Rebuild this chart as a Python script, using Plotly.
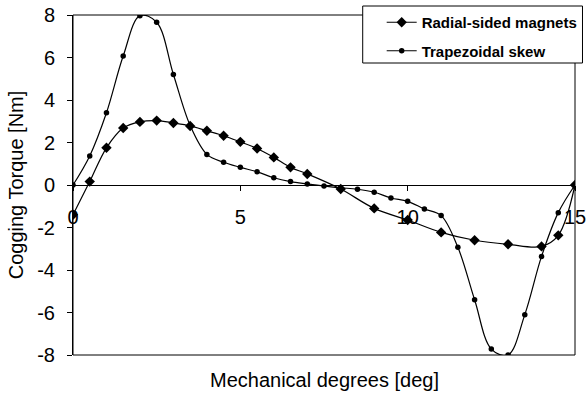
import plotly.graph_objects as go

radial_x = [0, 0.5, 1.0, 1.5, 2.0, 2.5, 3.0, 3.5, 4.0, 4.5, 5.0, 5.5, 6.0, 6.5, 7.0,
            8.0, 9.0, 10.0, 11.0, 12.0, 13.0, 14.0, 14.5, 15.0]
radial_y = [-1.4, 0.16, 1.75, 2.68, 2.97, 3.03, 2.92, 2.78, 2.55, 2.32, 2.03, 1.72, 1.3, 0.83, 0.52,
            -0.19, -1.1, -1.65, -2.23, -2.6, -2.79, -2.89, -2.37, 0.0]

trap_x = [0, 0.5, 1.0, 1.5, 2.0, 2.5, 3.0, 3.5, 4.0, 4.5, 5.0, 5.5, 6.0, 6.5, 7.0, 7.5,
          8.0, 8.5, 9.0, 9.5, 10.0, 10.5, 11.0, 11.5, 12.0, 12.5, 13.0, 13.5, 14.0, 14.5, 15.0]
trap_y = [0.0, 1.37, 3.4, 6.07, 7.97, 7.66, 5.2, 2.8, 1.44, 1.07, 0.83, 0.62, 0.34, 0.16, 0.05, -0.05,
          -0.13, -0.2, -0.34, -0.61, -0.77, -1.13, -1.44, -2.93, -5.4, -7.72, -8.0, -6.1, -3.36, -1.3, 0.0]

x_ticks = [0, 5, 10, 15]
y_ticks = [-8, -6, -4, -2, 0, 2, 4, 6, 8]

FONT = "Liberation Sans, Arial, sans-serif"

# plot area in pixels: x 73..575.5, y 15..355
PL, PR, PT, PB = 73.0, 575.5, 15.0, 355.0
def px_x(p):
    return (p - PL) / (PR - PL)
def px_y(p):
    return (PB - p) / (PB - PT)

fig = go.Figure()
fig.add_trace(go.Scatter(
    x=radial_x, y=radial_y, name="Radial-sided magnets", mode="lines+markers",
    line=dict(color="black", width=1.2, shape="spline", smoothing=1.0),
    marker=dict(symbol="diamond", size=8, color="black"),
    legendgroup="a"))
fig.add_trace(go.Scatter(
    x=trap_x, y=trap_y, name="Trapezoidal skew", mode="lines+markers",
    line=dict(color="black", width=1.2, shape="spline", smoothing=1.0),
    marker=dict(symbol="circle", size=5.5, color="black"),
    legendgroup="b"))

fig.update_layout(
    width=586, height=394,
    margin=dict(l=73, r=10.5, t=15, b=39, autoexpand=False),
    paper_bgcolor="white", plot_bgcolor="white",
    font=dict(family=FONT, size=20, color="black"),
    showlegend=True,
    legend=dict(
        x=px_x(382), y=px_y(6), xanchor="left", yanchor="top",
        bgcolor="rgba(0,0,0,0)", borderwidth=0,
        font=dict(family=FONT, size=15, color="black", weight="bold"),
        traceorder="grouped", tracegroupgap=6,
    ),
    xaxis=dict(
        range=[0, 15], tickvals=x_ticks, ticktext=[str(v) for v in x_ticks],
        anchor="free", position=0.5,
        showline=True, linecolor="black", linewidth=1,
        ticks="outside", ticklen=5, tickcolor="black",
        showgrid=False, zeroline=False,
        tickfont=dict(size=20), ticklabelstandoff=9,
        ticklabeloverflow="allow",
    ),
    yaxis=dict(
        range=[-8, 8], tickvals=y_ticks, ticktext=[str(v) for v in y_ticks],
        showline=True, linecolor="black", linewidth=1,
        ticks="outside", ticklen=5, tickcolor="black",
        showgrid=False, zeroline=False,
        tickfont=dict(size=20), ticklabelstandoff=8,
        ticklabeloverflow="allow",
        title=dict(text="Cogging Torque [Nm]", font=dict(size=20), standoff=8),
    ),
    shapes=[
        dict(type="rect", xref="x domain", yref="y domain", x0=0, x1=1, y0=0, y1=1,
             line=dict(color="black", width=1), layer="below"),
        dict(type="rect", xref="paper", yref="paper",
             x0=px_x(363), x1=px_x(583), y0=px_y(63), y1=px_y(6),
             line=dict(color="black", width=1), fillcolor="white", layer="above"),
    ],
    annotations=[dict(text="Mechanical degrees [deg]", xref="paper", yref="paper",
                      x=0.5, y=-0.074, xanchor="center", yanchor="middle",
                      showarrow=False, font=dict(size=20, color="black"))],
)

fig.write_html("out.html")
